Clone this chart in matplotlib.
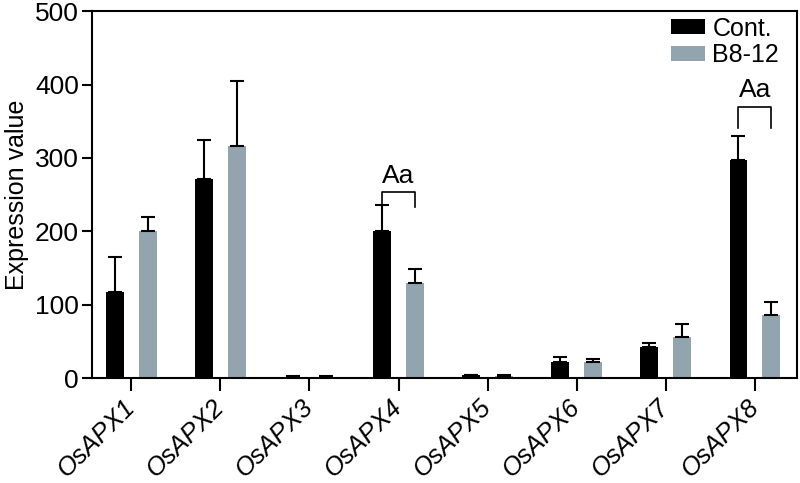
import numpy as np
import matplotlib.pyplot as plt

plt.rcParams['font.family'] = ['Liberation Sans', 'DejaVu Sans']

genes = ['OsAPX1', 'OsAPX2', 'OsAPX3', 'OsAPX4', 'OsAPX5', 'OsAPX6', 'OsAPX7', 'OsAPX8']
cont = [117, 271, 2, 200, 4, 22, 42, 297]
cont_err = [48, 53, 1, 36, 1, 7, 6, 33]
b812 = [200, 316, 2, 130, 3, 22, 56, 86]
b812_err = [19, 89, 1, 19, 1, 4, 18, 18]

# significance brackets: (gene index, bracket y, leg bottom y, label)
marks = [(3, 253, 233, 'Aa'), (7, 370, 341, 'Aa')]

black = '#000000'
grey = '#92a5af'

fig = plt.figure(figsize=(8, 4.83), dpi=100)
ax = fig.add_axes([0.115, 0.217, 0.881, 0.76])

x = np.arange(len(genes))
w = 0.2
off = 0.185
err_kw = dict(ecolor='black', elinewidth=1.5, capsize=5, capthick=1.5)
ax.bar(x - off, cont, w, color=black, label='Cont.',
       yerr=[np.zeros(len(cont)), cont_err], error_kw=err_kw)
ax.bar(x + off, b812, w, color=grey, label='B8-12',
       yerr=[np.zeros(len(b812)), b812_err], error_kw=err_kw)

for i, ytop, ybot, lab in marks:
    x0, x1 = i - off, i + off
    ax.plot([x0, x0, x1, x1], [ybot, ytop, ytop, ybot], color='black', lw=1.2)
    ax.text(i, ytop + 6, lab, ha='center', va='bottom', fontsize=19)

ax.set_xlim(-0.44, 7.47)
ax.set_ylim(0, 500)
ax.set_yticks([0, 100, 200, 300, 400, 500])
ax.set_xticks(x)
ax.set_xticklabels(genes, rotation=45, ha='right', va='center',
                   rotation_mode='anchor', fontstyle='italic', fontsize=18.5)
ax.tick_params(axis='y', labelsize=19, length=7.5, width=1.5, pad=2)
ax.tick_params(axis='x', length=9, width=1.5, pad=9)
ax.set_ylabel('Expression value', fontsize=18, labelpad=4)

for s in ax.spines.values():
    s.set_linewidth(1.5)

ax.legend(loc='upper right', bbox_to_anchor=(0.975, 0.985), fontsize=18,
          frameon=False, handlelength=1.36, handleheight=0.56,
          handletextpad=0.28, labelspacing=0.1, borderaxespad=0.0,
          borderpad=0.0)

fig.savefig('out.png', dpi=100)
